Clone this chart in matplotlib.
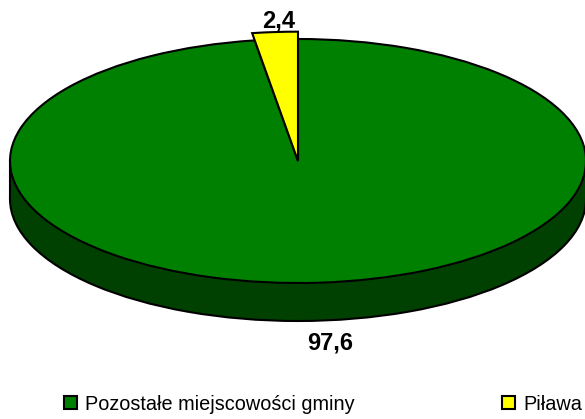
""" Pie chart with a fake 3D rim, Pilawa share against the rest of the commune. """
import matplotlib
matplotlib.use('Agg')
from matplotlib import pyplot as plt
from matplotlib.patches import Rectangle

labels = ['Pozostałe miejscowości gminy', 'Piława']
values = [97.6, 2.4]
value_labels = ['97,6', '2,4']
colours = ['#008000', '#ffff00']

W, H = 585, 419
CX, CY = 298, 161
RX, RY = 288, 122
DEPTH = 38 / RY

plt.rcParams['font.family'] = ['Liberation Sans', 'DejaVu Sans']
fig = plt.figure(figsize=(W / 100, H / 100), dpi=100)
ax = fig.add_axes([0, 0, 1, 1])

# Rim: a dark pie shifted down, plus a rectangle joining it to the top face.
ax.pie([1], radius=1, center=(0, -DEPTH), colors=['#004000'], startangle=90,
       wedgeprops={'edgecolor': 'k', 'linewidth': 1.5})
ax.add_patch(Rectangle((-1, -DEPTH), 2, DEPTH, facecolor='#004000', edgecolor='none'))
ax.plot([-1, -1], [-DEPTH, 0], color='k', linewidth=1.5)
ax.plot([1, 1], [-DEPTH, 0], color='k', linewidth=1.5)

wedges, _ = ax.pie(values, colors=colours, startangle=90, counterclock=False,
                   wedgeprops={'edgecolor': 'k', 'linewidth': 1.5})
# The small slice sticks out a bit above the face.
wedges[1].set_radius(1.06)

ax.set_aspect('auto')
ax.set_xlim(-CX / RX, (W - CX) / RX)
ax.set_ylim(-(H - CY) / RY, CY / RY)
ax.axis('off')

ax.text((330 - CX) / RX, (CY - 349) / RY, value_labels[0], ha='center', va='baseline',
        fontsize=17, fontweight='bold')
ax.text((279 - CX) / RX, (CY - 27) / RY, value_labels[1], ha='center', va='baseline',
        fontsize=17, fontweight='bold')

ax.legend(wedges, labels, ncol=2, frameon=False, fontsize=14.3, loc='center left',
          bbox_to_anchor=(64 / W, 1 - 404 / H), borderpad=0, borderaxespad=0,
          handlelength=0.65, handleheight=0.65, handletextpad=0.42, columnspacing=7.4)

fig.savefig('out.png', dpi=100)
